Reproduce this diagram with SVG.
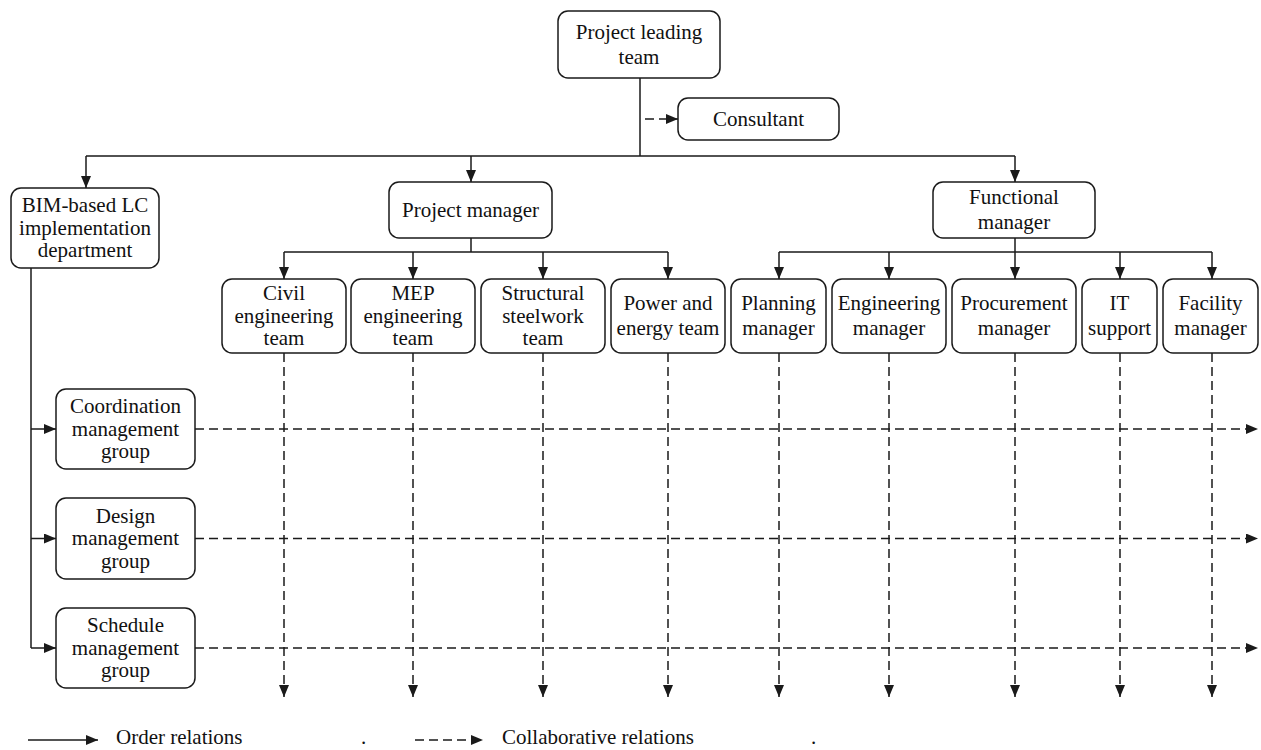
<svg xmlns="http://www.w3.org/2000/svg" width="1261" height="750" viewBox="0 0 1261 750">
  <style>
    .box { fill: #ffffff; stroke: #1a1a1a; stroke-width: 1.5; }
    .lbl { font-family: "Liberation Serif", "Times New Roman", serif; font-size: 21px; fill: #111111; text-anchor: middle; }
    .leg { font-family: "Liberation Serif", "Times New Roman", serif; font-size: 21px; fill: #111111; }
    .solid { fill: none; stroke: #1a1a1a; stroke-width: 1.5; }
    .dash { fill: none; stroke: #1a1a1a; stroke-width: 1.5; stroke-dasharray: 9 5; }
  </style>
  <defs>
    <marker id="head" markerUnits="userSpaceOnUse" markerWidth="12" markerHeight="10" refX="12" refY="5" orient="auto">
      <path d="M0,0 L12,5 L0,10 z" fill="#1a1a1a"/>
    </marker>
  </defs>
  <rect width="1261" height="750" fill="#ffffff"/>

  <!-- connectors -->
  <g id="connectors">
    <!-- top level -->
    <path class="solid" d="M640,78 V156 M86,156 H1015"/>
    <path class="solid" d="M86,156 V188" marker-end="url(#head)"/>
    <path class="solid" d="M471,156 V182" marker-end="url(#head)"/>
    <path class="solid" d="M1015,156 V182" marker-end="url(#head)"/>
    <path class="dash" d="M645,119 H678" marker-end="url(#head)"/>

    <!-- project manager branch -->
    <path class="solid" d="M471,238 V252 M284,252 H668"/>
    <path class="solid" d="M284,252 V279" marker-end="url(#head)"/>
    <path class="solid" d="M413,252 V279" marker-end="url(#head)"/>
    <path class="solid" d="M543,252 V279" marker-end="url(#head)"/>
    <path class="solid" d="M668,252 V279" marker-end="url(#head)"/>

    <!-- functional manager branch -->
    <path class="solid" d="M1015,238 V252 M779,252 H1212"/>
    <path class="solid" d="M779,252 V279" marker-end="url(#head)"/>
    <path class="solid" d="M889,252 V279" marker-end="url(#head)"/>
    <path class="solid" d="M1015,252 V279" marker-end="url(#head)"/>
    <path class="solid" d="M1120,252 V279" marker-end="url(#head)"/>
    <path class="solid" d="M1212,252 V279" marker-end="url(#head)"/>

    <!-- implementation department trunk -->
    <path class="solid" d="M31,268 V648"/>
    <path class="solid" d="M31,429 H56" marker-end="url(#head)"/>
    <path class="solid" d="M31,538.5 H56" marker-end="url(#head)"/>
    <path class="solid" d="M31,648 H56" marker-end="url(#head)"/>

    <!-- collaborative rows -->
    <path class="dash" d="M195,429 H1258" marker-end="url(#head)"/>
    <path class="dash" d="M195,538.5 H1258" marker-end="url(#head)"/>
    <path class="dash" d="M195,648 H1258" marker-end="url(#head)"/>

    <!-- collaborative columns -->
    <path class="dash" d="M284,353 V697" marker-end="url(#head)"/>
    <path class="dash" d="M413,353 V697" marker-end="url(#head)"/>
    <path class="dash" d="M543,353 V697" marker-end="url(#head)"/>
    <path class="dash" d="M668,353 V697" marker-end="url(#head)"/>
    <path class="dash" d="M779,353 V697" marker-end="url(#head)"/>
    <path class="dash" d="M889,353 V697" marker-end="url(#head)"/>
    <path class="dash" d="M1015,353 V697" marker-end="url(#head)"/>
    <path class="dash" d="M1120,353 V697" marker-end="url(#head)"/>
    <path class="dash" d="M1212,353 V697" marker-end="url(#head)"/>
  </g>

  <!-- nodes -->
  <g id="lead">
    <rect class="box" x="558" y="11" width="162" height="67" rx="10"/>
    <text class="lbl" x="639" y="38.5">Project leading</text>
    <text class="lbl" x="639" y="63.5">team</text>
  </g>
  <g id="consultant">
    <rect class="box" x="678" y="98" width="161" height="42" rx="10"/>
    <text class="lbl" x="758.5" y="125.5">Consultant</text>
  </g>
  <g id="bim-dept">
    <rect class="box" x="11" y="188" width="148" height="80" rx="10"/>
    <text class="lbl" x="85" y="212">BIM-based LC</text>
    <text class="lbl" x="85" y="234.5">implementation</text>
    <text class="lbl" x="85" y="257">department</text>
  </g>
  <g id="project-manager">
    <rect class="box" x="389" y="182" width="163" height="56" rx="10"/>
    <text class="lbl" x="470.5" y="216.5">Project manager</text>
  </g>
  <g id="functional-manager">
    <rect class="box" x="933" y="182" width="162" height="56" rx="10"/>
    <text class="lbl" x="1014" y="204">Functional</text>
    <text class="lbl" x="1014" y="229">manager</text>
  </g>

  <g id="civil">
    <rect class="box" x="222" y="279" width="124" height="74" rx="10"/>
    <text class="lbl" x="284" y="300">Civil</text>
    <text class="lbl" x="284" y="322.5">engineering</text>
    <text class="lbl" x="284" y="345">team</text>
  </g>
  <g id="mep">
    <rect class="box" x="351" y="279" width="124" height="74" rx="10"/>
    <text class="lbl" x="413" y="300">MEP</text>
    <text class="lbl" x="413" y="322.5">engineering</text>
    <text class="lbl" x="413" y="345">team</text>
  </g>
  <g id="steelwork">
    <rect class="box" x="481" y="279" width="124" height="74" rx="10"/>
    <text class="lbl" x="543" y="300">Structural</text>
    <text class="lbl" x="543" y="322.5">steelwork</text>
    <text class="lbl" x="543" y="345">team</text>
  </g>
  <g id="power">
    <rect class="box" x="611" y="279" width="114" height="74" rx="10"/>
    <text class="lbl" x="668" y="310">Power and</text>
    <text class="lbl" x="668" y="335">energy team</text>
  </g>
  <g id="planning">
    <rect class="box" x="731" y="279" width="95" height="74" rx="10"/>
    <text class="lbl" x="778.5" y="310">Planning</text>
    <text class="lbl" x="778.5" y="335">manager</text>
  </g>
  <g id="engineering">
    <rect class="box" x="832" y="279" width="114" height="74" rx="10"/>
    <text class="lbl" x="889" y="310">Engineering</text>
    <text class="lbl" x="889" y="335">manager</text>
  </g>
  <g id="procurement">
    <rect class="box" x="952" y="279" width="124" height="74" rx="10"/>
    <text class="lbl" x="1014" y="310">Procurement</text>
    <text class="lbl" x="1014" y="335">manager</text>
  </g>
  <g id="it-support">
    <rect class="box" x="1082" y="279" width="75" height="74" rx="10"/>
    <text class="lbl" x="1119.5" y="310">IT</text>
    <text class="lbl" x="1119.5" y="335">support</text>
  </g>
  <g id="facility">
    <rect class="box" x="1163" y="279" width="95" height="74" rx="10"/>
    <text class="lbl" x="1210.5" y="310">Facility</text>
    <text class="lbl" x="1210.5" y="335">manager</text>
  </g>

  <g id="coordination">
    <rect class="box" x="56" y="389" width="139" height="80" rx="10"/>
    <text class="lbl" x="125.5" y="413">Coordination</text>
    <text class="lbl" x="125.5" y="435.5">management</text>
    <text class="lbl" x="125.5" y="458">group</text>
  </g>
  <g id="design">
    <rect class="box" x="56" y="498" width="139" height="81" rx="10"/>
    <text class="lbl" x="125.5" y="522.5">Design</text>
    <text class="lbl" x="125.5" y="545">management</text>
    <text class="lbl" x="125.5" y="567.5">group</text>
  </g>
  <g id="schedule">
    <rect class="box" x="56" y="608" width="139" height="80" rx="10"/>
    <text class="lbl" x="125.5" y="632">Schedule</text>
    <text class="lbl" x="125.5" y="654.5">management</text>
    <text class="lbl" x="125.5" y="677">group</text>
  </g>

  <!-- legend -->
  <g id="legend">
    <path class="solid" d="M28,740 H98" marker-end="url(#head)"/>
    <text class="leg" x="116" y="744">Order relations</text>
    <text class="leg" x="361" y="744">.</text>
    <path class="dash" d="M415,740 H483" marker-end="url(#head)"/>
    <text class="leg" x="502" y="744">Collaborative relations</text>
    <text class="leg" x="811" y="744">.</text>
  </g>
</svg>
